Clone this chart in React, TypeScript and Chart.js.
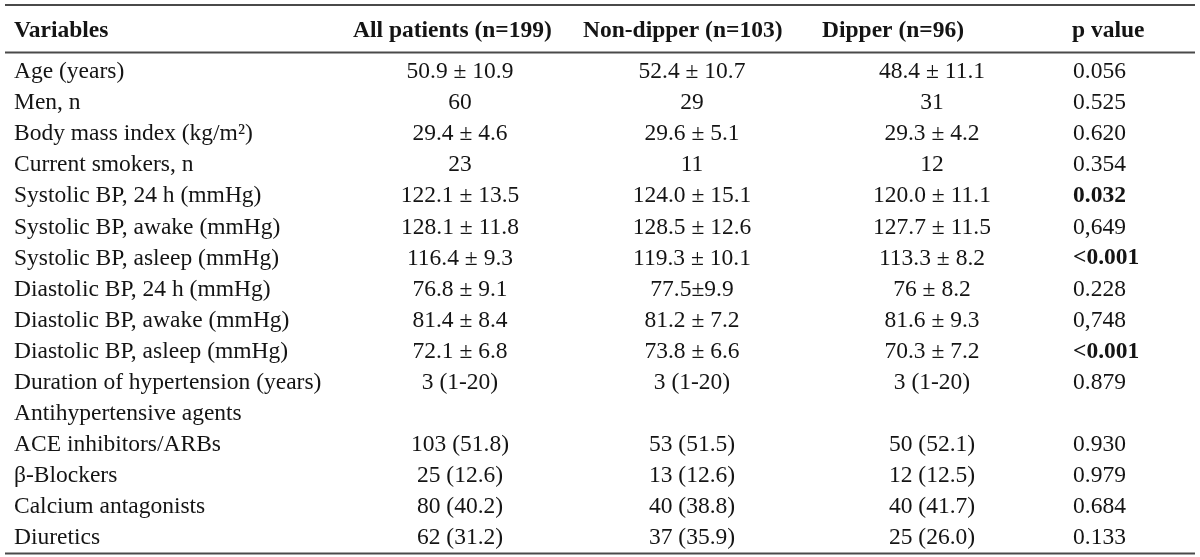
import React, { useEffect, useRef } from "react";
import { Chart, registerables } from "chart.js";

Chart.register(...registerables);

const headers = ["Variables", "All patients (n=199)", "Non-dipper (n=103)", "Dipper (n=96)", "p value"];

const variables = [
  "Age (years)",
  "Men, n",
  "Body mass index (kg/m²)",
  "Current smokers, n",
  "Systolic BP, 24 h (mmHg)",
  "Systolic BP, awake (mmHg)",
  "Systolic BP, asleep (mmHg)",
  "Diastolic BP, 24 h (mmHg)",
  "Diastolic BP, awake (mmHg)",
  "Diastolic BP, asleep (mmHg)",
  "Duration of hypertension (years)",
  "Antihypertensive agents",
  "ACE inhibitors/ARBs",
  "β-Blockers",
  "Calcium antagonists",
  "Diuretics",
];

const allPatients = [
  "50.9 ± 10.9", "60", "29.4 ± 4.6", "23", "122.1 ± 13.5", "128.1 ± 11.8", "116.4 ± 9.3",
  "76.8 ± 9.1", "81.4 ± 8.4", "72.1 ± 6.8", "3 (1-20)", "", "103 (51.8)", "25 (12.6)", "80 (40.2)", "62 (31.2)",
];

const nonDipper = [
  "52.4 ± 10.7", "29", "29.6 ± 5.1", "11", "124.0 ± 15.1", "128.5 ± 12.6", "119.3 ± 10.1",
  "77.5±9.9", "81.2 ± 7.2", "73.8 ± 6.6", "3 (1-20)", "", "53 (51.5)", "13 (12.6)", "40 (38.8)", "37 (35.9)",
];

const dipper = [
  "48.4 ± 11.1", "31", "29.3 ± 4.2", "12", "120.0 ± 11.1", "127.7 ± 11.5", "113.3 ± 8.2",
  "76 ± 8.2", "81.6 ± 9.3", "70.3 ± 7.2", "3 (1-20)", "", "50 (52.1)", "12 (12.5)", "40 (41.7)", "25 (26.0)",
];

const pValues = [
  "0.056", "0.525", "0.620", "0.354", "0.032", "0,649", "<0.001",
  "0.228", "0,748", "<0.001", "0.879", "", "0.930", "0.979", "0.684", "0.133",
];

const significant = [
  false, false, false, false, true, false, true,
  false, false, true, false, false, false, false, false, false,
];

const FONT = '"Liberation Serif", "Times New Roman", serif';
const FONT_SIZE = 23.5;
const TEXT_COLOR = "#141414";
const LINE_COLOR = "#4a4a4a";

// layout (pixel values along the hidden linear x scale)
const headerX = [14, 353, 583, 822, 1072];
const headerAlign: CanvasTextAlign[] = ["left", "left", "left", "left", "left"];
const colX = [14, 460, 692, 932, 1073];
const colAlign: CanvasTextAlign[] = ["left", "center", "center", "center", "left"];

const tablePlugin = {
  id: "tablePlugin",
  afterDraw(chart: any) {
    const ctx = chart.ctx;
    const xs = chart.scales.x;
    const ys = chart.scales.y;
    const x0 = xs.getPixelForValue(5);
    const x1 = xs.getPixelForValue(1195);
    ctx.save();
    // rules
    ctx.strokeStyle = LINE_COLOR;
    ctx.lineWidth = 2;
    const rule = (y: number) => {
      ctx.beginPath();
      ctx.moveTo(x0, y);
      ctx.lineTo(x1, y);
      ctx.stroke();
    };
    rule(5);
    rule(chart.chartArea.top - 3);
    rule(chart.chartArea.bottom + 1);

    ctx.fillStyle = TEXT_COLOR;
    ctx.textBaseline = "middle";
    // header
    ctx.font = `bold ${FONT_SIZE}px ${FONT}`;
    headers.forEach((h, i) => {
      ctx.textAlign = headerAlign[i];
      ctx.fillText(h, xs.getPixelForValue(headerX[i]), 31);
    });
    // body
    const cols = [variables, allPatients, nonDipper, dipper, pValues];
    variables.forEach((_, r) => {
      const y = ys.getPixelForValue(r) + 1;
      cols.forEach((col, c) => {
        const txt = col[r];
        if (!txt) return;
        const bold = c === 4 && significant[r];
        ctx.font = `${bold ? "bold " : ""}${FONT_SIZE}px ${FONT}`;
        ctx.textAlign = colAlign[c];
        ctx.fillText(txt, xs.getPixelForValue(colX[c]), y);
      });
    });
    ctx.restore();
  },
};

export default function App() {
  const ref = useRef<HTMLCanvasElement | null>(null);
  useEffect(() => {
    document.body.style.margin = "0";
    const canvas = ref.current!;
    const chart = new Chart(canvas, {
      type: "scatter",
      data: { datasets: [{ data: [], pointRadius: 0 }] },
      options: {
        animation: false,
        responsive: false,
        maintainAspectRatio: false,
        layout: { padding: { top: 55.5, bottom: 4.5, left: 0, right: 0 } },
        plugins: { legend: { display: false }, tooltip: { enabled: false } },
        scales: {
          x: { type: "linear", min: 0, max: 1200, display: false },
          y: { type: "category", labels: variables, offset: true, display: false },
        },
      },
      plugins: [tablePlugin],
    });
    return () => chart.destroy();
  }, []);
  return (
    <div style={{ width: 1200, height: 557, background: "#fff" }}>
      <canvas ref={ref} width={1200} height={557} style={{ display: "block" }} />
    </div>
  );
}
